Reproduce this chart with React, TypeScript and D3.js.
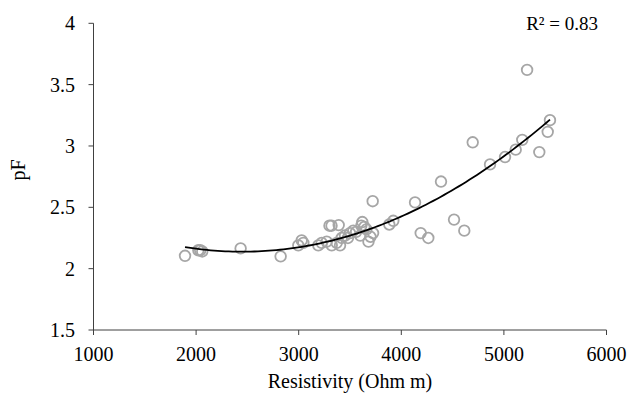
import React from "react";
import * as d3 from "d3";

const resistivity = [
  1892, 2022, 2040, 2060, 2434, 2824, 2996, 3029, 3045, 3191,
  3224, 3273, 3322, 3370, 3403, 3419, 3451, 3480, 3500, 3532,
  3560, 3300, 3320, 3390, 3600, 3610, 3620, 3640, 3660, 3680,
  3700, 3725, 3721, 3883, 3922, 4134, 4189, 4263, 4387, 4514,
  4614, 4696, 4865, 5011, 5115, 5179, 5226, 5345, 5427, 5449,
];
const pF = [
  2.105, 2.15, 2.15, 2.14, 2.165, 2.1, 2.19, 2.23, 2.21, 2.19,
  2.21, 2.22, 2.19, 2.21, 2.19, 2.25, 2.27, 2.25, 2.29, 2.31,
  2.3, 2.35, 2.35, 2.355, 2.27, 2.35, 2.38, 2.34, 2.32, 2.22,
  2.26, 2.29, 2.55, 2.36, 2.39, 2.54, 2.29, 2.25, 2.71, 2.4,
  2.31, 3.03, 2.85, 2.91, 2.97, 3.05, 3.62, 2.95, 3.115, 3.21,
];
const xTicks = [1000, 2000, 3000, 4000, 5000, 6000];
const yTicks = [1.5, 2, 2.5, 3, 3.5, 4];
const r2Label = "R² = 0.83";

function quadFit(xs: number[], ys: number[]) {
  const mx = d3.mean(xs)!;
  const sx = 1000;
  const u = xs.map((x) => (x - mx) / sx);
  let s0 = 0, s1 = 0, s2 = 0, s3 = 0, s4 = 0, t0 = 0, t1 = 0, t2 = 0;
  u.forEach((v, i) => {
    const y = ys[i];
    s0 += 1; s1 += v; s2 += v * v; s3 += v * v * v; s4 += v * v * v * v;
    t0 += y; t1 += v * y; t2 += v * v * y;
  });
  const A = [
    [s0, s1, s2, t0],
    [s1, s2, s3, t1],
    [s2, s3, s4, t2],
  ];
  for (let i = 0; i < 3; i++) {
    for (let k = i + 1; k < 3; k++) {
      const f = A[k][i] / A[i][i];
      for (let j = i; j < 4; j++) A[k][j] -= f * A[i][j];
    }
  }
  const c = [0, 0, 0];
  for (let i = 2; i >= 0; i--) {
    let s = A[i][3];
    for (let j = i + 1; j < 3; j++) s -= A[i][j] * c[j];
    c[i] = s / A[i][i];
  }
  return (x: number) => {
    const v = (x - mx) / sx;
    return c[0] + c[1] * v + c[2] * v * v;
  };
}

export default function App() {
  const W = 630, H = 400;
  const x = d3.scaleLinear().domain([1000, 6000]).range([93.5, 606.5]);
  const y = d3.scaleLinear().domain([1.5, 4]).range([330, 23.3]);
  const f = quadFit(resistivity, pF);
  const [xmin, xmax] = d3.extent(resistivity) as [number, number];
  const fitPts = d3.range(0, 101).map((i) => xmin + ((xmax - xmin) * i) / 100);
  const line = d3
    .line<number>()
    .x((d) => x(d))
    .y((d) => y(f(d)))
    .curve(d3.curveLinear);
  const axisColor = "#404040";
  const font = "'Liberation Serif', 'Times New Roman', serif";
  return (
    <svg
      width={W}
      height={H}
      style={{ position: "absolute", left: 0, top: 0, background: "#fff" }}
    >
      <rect width={W} height={H} fill="#fff" />
      <line x1={x(1000)} x2={x(6000)} y1={y(1.5)} y2={y(1.5)} stroke={axisColor} strokeWidth={1} />
      <line x1={x(1000)} x2={x(1000)} y1={y(1.5)} y2={y(4)} stroke={axisColor} strokeWidth={1} />
      {xTicks.map((t) => (
        <g key={"x" + t}>
          <line x1={x(t)} x2={x(t)} y1={y(1.5)} y2={y(1.5) + 5} stroke={axisColor} />
          <text x={x(t)} y={361} textAnchor="middle" fontSize={20} fontFamily={font} fill="#000">
            {t}
          </text>
        </g>
      ))}
      {yTicks.map((t) => (
        <g key={"y" + t}>
          <line x1={x(1000) - 5} x2={x(1000)} y1={y(t)} y2={y(t)} stroke={axisColor} />
          <text x={75} y={y(t) + 7} textAnchor="end" fontSize={20} fontFamily={font} fill="#000">
            {t}
          </text>
        </g>
      ))}
      {resistivity.map((r, i) => (
        <circle
          key={i}
          cx={x(r)}
          cy={y(pF[i])}
          r={5.3}
          fill="none"
          stroke="#a6a6a6"
          strokeWidth={1.8}
        />
      ))}
      <path d={line(fitPts) || ""} fill="none" stroke="#000" strokeWidth={1.8} />
      <text x={598} y={30} textAnchor="end" fontSize={19} fontFamily={font} fill="#000">
        {r2Label}
      </text>
      <text
        x={0}
        y={0}
        transform={`translate(25,170) rotate(-90)`}
        textAnchor="middle"
        fontSize={20}
        fontFamily={font}
        fill="#000"
      >
        pF
      </text>
      <text x={(x(1000) + x(6000)) / 2} y={388} textAnchor="middle" fontSize={20} fontFamily={font} fill="#000">
        Resistivity (Ohm m)
      </text>
    </svg>
  );
}
